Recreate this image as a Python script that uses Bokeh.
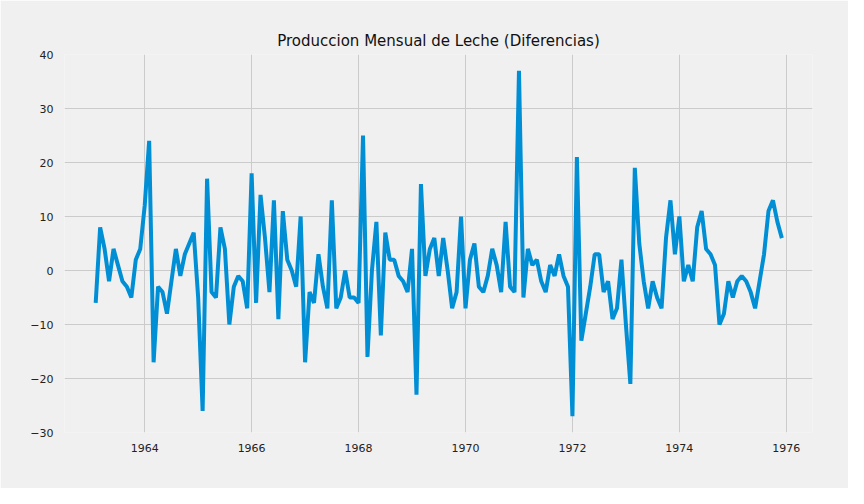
from bokeh.plotting import figure
from bokeh.models import FixedTicker, Range1d
from bokeh.embed import file_html
from bokeh.resources import INLINE

start_year = 1963
start_month = 2
diffs = [
    -6, 8, 4, -2, 4, 1, -2, -3, -5, 2, 4,
    12, 24, -17, -3, -4, -8, -2, 4, -1, 3, 5, 7,
    -5, -26, 17, -4, -5, 8, 4, -10, -3, -1, -2, -7,
    18, -6, 14, 6, -4, 13, -9, 11, 2, 0, -3, 10,
    -17, -4, -6, 3, -3, -7, 13, -7, -5, 0, -5, -5,
    -6, 25, -16, 0, 9, -12, 7, 2, 2, -1, -2, -4,
    4, -23, 16, -1, 4, 6, -1, 6, 0, -7, -4, 10,
    -7, 2, 5, -3, -4, -1, 4, 1, -4, 9, -3, -4,
    37, -5, 4, 1, 2, -2, -4, 1, -1, 3, -1, -3,
    -27, 21, -13, -8, -3, 3, 3, -4, -2, -9, -7, 2,
    -10, -21, 19, 5, -2, -7, -2, -5, -7, 6, 13, 3,
    10, -2, 1, -2, 8, 11, 4, 3, 1, -10, -8, -2,
    -5, -2, -1, -2, -4, -7, -2, 3, 11, 13, 9, 6,
]
year_ticks = [1964, 1966, 1968, 1970, 1972, 1974, 1976]
y_ticks = [-30, -20, -10, 0, 10, 20, 30, 40]

x = [start_year + (start_month - 1 + i) / 12 for i in range(len(diffs))]

p = figure(width=848, height=488, output_backend="svg", toolbar_location=None,
           title="Produccion Mensual de Leche (Diferencias)",
           x_range=Range1d(1962.5, 1976.49), y_range=Range1d(-30, 40),
           min_border_left=64, min_border_right=36, min_border_top=54, min_border_bottom=56)
p.background_fill_color = "#f0f0f0"
p.border_fill_color = "#f0f0f0"
p.outline_line_color = None
p.title.align = "center"
p.title.text_font = "DejaVu Sans"
p.title.text_font_style = "normal"
p.title.text_font_size = "15px"
p.title.text_color = "#111111"

p.xaxis.ticker = FixedTicker(ticks=year_ticks)
p.yaxis.ticker = FixedTicker(ticks=y_ticks)
p.yaxis.major_label_overrides = {t: str(t).replace("-", "\u2212") for t in y_ticks}
for ax in (p.xaxis, p.yaxis):
    ax.axis_line_color = None
    ax.major_tick_line_color = None
    ax.minor_tick_line_color = None
    ax.major_label_text_font = "DejaVu Sans"
    ax.major_label_text_font_size = "11px"
    ax.major_label_text_color = "#222222"
p.grid.grid_line_color = "#cbcbcb"
p.grid.grid_line_width = 1

p.line(x, diffs, line_color="#008fd5", line_width=4)

open("out.html", "w").write(file_html(p, INLINE))
